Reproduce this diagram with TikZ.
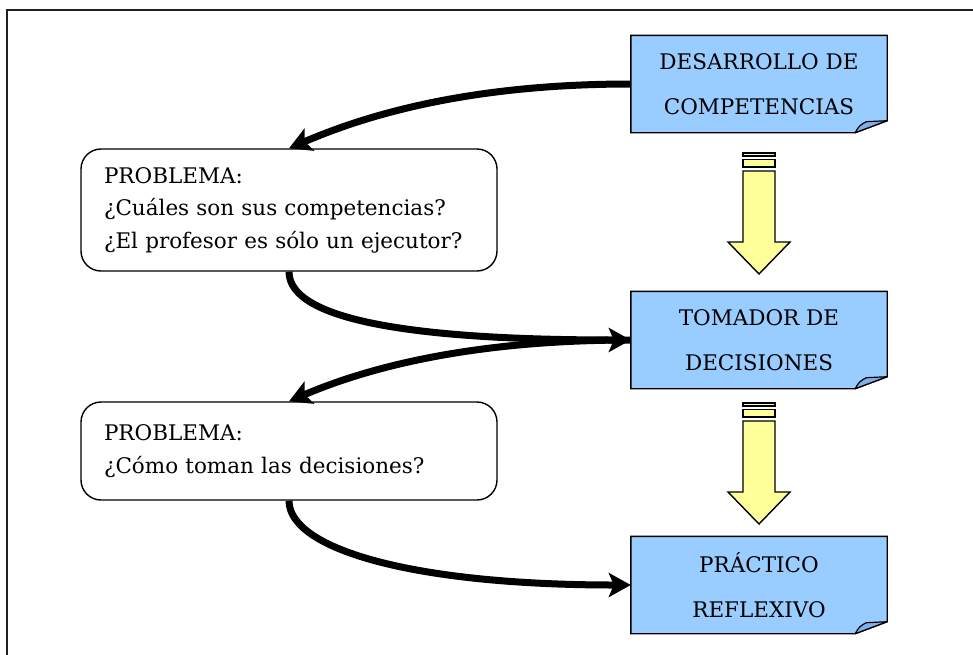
\documentclass[tikz,border=0pt]{standalone}
\usepackage{fontspec}
\setmainfont{DejaVu Serif}
\usetikzlibrary{arrows.meta,backgrounds}
\definecolor{notefill}{HTML}{99CCFF}
\definecolor{flapfill}{HTML}{80AEE8}
\definecolor{arrowfill}{HTML}{FFFF99}
\definecolor{framecol}{HTML}{202020}
\begin{document}
\begin{tikzpicture}[x=1pt,y=-1pt,
  note/.style={minimum width=256, minimum height=97, inner sep=0,
    align=center, font=\fontsize{21.5}{45}\selectfont},
  problem/.style={draw, line width=1.4, rounded corners=20,
    minimum width=416, text width=370, inner xsep=23, align=left,
    font=\fontsize{21.5}{32.5}\selectfont},
  flow/.style={line width=7, -{Stealth[length=22,width=24,inset=5]}},
  notebody/.style={draw, line width=1.4, fill=notefill},
  flapbody/.style={draw, line width=1.2, fill=flapfill, line join=round},
  bigarrow/.style={draw, line width=1.4, fill=arrowfill},
]
\useasboundingbox (0,0) rectangle (973,654);
% outer frame, open to the right and bottom
\draw[framecol, line width=2] (7,10) rectangle (1000,700);

% notes on the right
\node[note] (d1) at (759,84) {DESARROLLO DE\\COMPETENCIAS};
\node[note] (d2) at (759,340) {TOMADOR DE\\DECISIONES};
\node[note] (d3) at (759,585) {PRÁCTICO\\REFLEXIVO};

% note sheets with a folded corner
\begin{scope}[on background layer]
\foreach \n in {d1,d2,d3} {
  \path[notebody] (\n.north west) -- (\n.north east) -- ([yshift=12]\n.south east)
    -- ([xshift=-32]\n.south east) -- (\n.south west) -- cycle;
  \path[flapbody] ([xshift=-32]\n.south east)
    .. controls ([xshift=-28,yshift=7]\n.south east) .. ([xshift=-21,yshift=11]\n.south east)
    -- ([yshift=12]\n.south east) -- cycle;
}
\end{scope}

% problem boxes
\node[problem, minimum height=122] (p1) at (289,210)
  {PROBLEMA:\\¿Cuáles son sus competencias?\\¿El profesor es sólo un ejecutor?};
\node[problem, minimum height=98] (p2) at (289,451)
  {PROBLEMA:\\¿Cómo toman las decisiones?};

% striped yellow arrows between the notes
\foreach \oy in {0,250} {
  \begin{scope}[yshift=-\oy]
    \path[bigarrow] (743,153) rectangle (775,156);
    \path[bigarrow] (743,159.5) rectangle (775,167);
    \path[bigarrow] (743,171) -- (775,171) -- (775,242) -- (790,242)
      -- (759,274) -- (728,242) -- (743,242) -- cycle;
  \end{scope}
}

% curved connectors
\draw[flow] (d1.west) .. controls +(-170,0) and +(70,-30) .. (p1.north);
\draw[flow] (p1.south) .. controls +(0,48) and +(-220,0) .. (d2.west);
\draw[flow] (d2.west) .. controls +(-170,0) and +(70,-30) .. (p2.north);
\draw[flow] (p2.south) .. controls +(0,48) and +(-220,0) .. (d3.west);
\end{tikzpicture}
\end{document}
